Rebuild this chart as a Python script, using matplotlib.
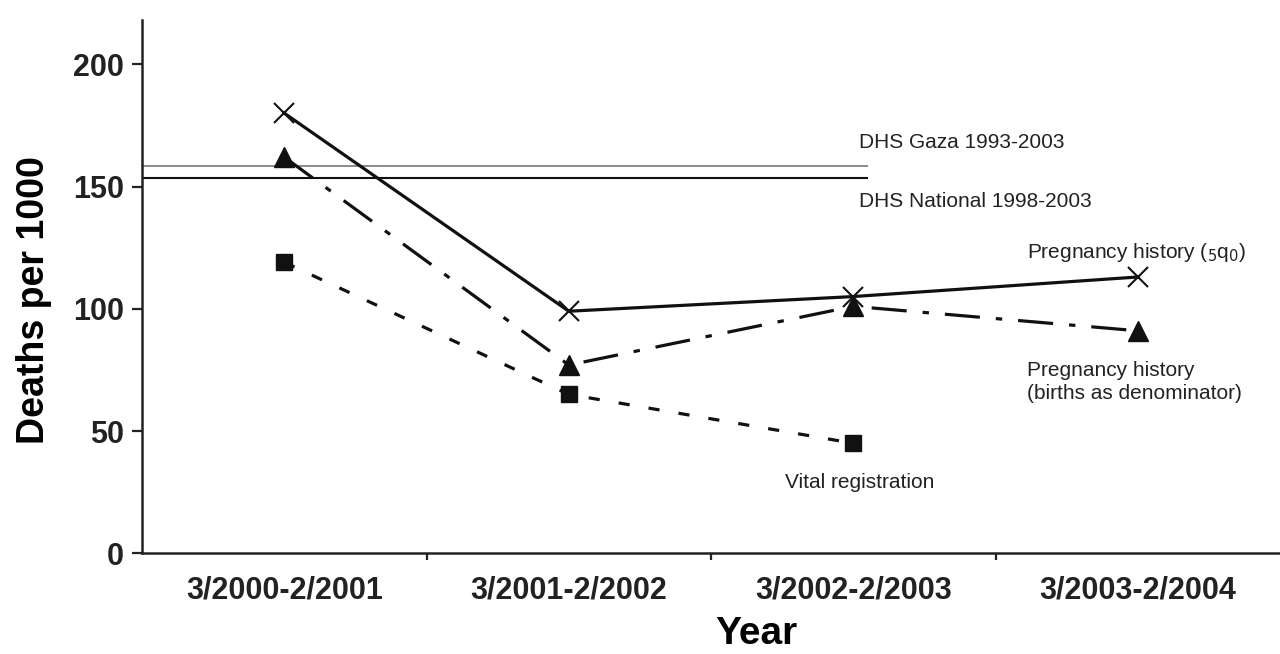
import numpy as np
import matplotlib
matplotlib.use("Agg")
import matplotlib.pyplot as plt

# data
periods = ["3/2000-2/2001", "3/2001-2/2002", "3/2002-2/2003", "3/2003-2/2004"]
preg_5q0 = [180, 99, 105, 113]
preg_births = [162, 77, 101, 91]
vital_reg = [119, 65, 45]
dhs_gaza = 158.5
dhs_national = 153.5

plt.rcParams['font.family'] = ['Liberation Sans', 'DejaVu Sans']
ink = '#111111'

fig = plt.figure(figsize=(12.8, 6.54), dpi=100)
ax = fig.add_axes([0.111, 0.154, 0.889, 0.815])

x = np.arange(len(periods))

# DHS reference lines
ax.plot([-0.5, 2.05], [dhs_gaza, dhs_gaza], color='#777777', lw=1.2, solid_capstyle='butt')
ax.plot([-0.5, 2.05], [dhs_national, dhs_national], color=ink, lw=1.5, solid_capstyle='butt')

ax.plot(x, preg_5q0, color=ink, lw=2.3, marker='x', ms=15, mew=1.5)
ax.plot(x, preg_births, color=ink, lw=2.3, marker='^', ms=15,
        dashes=(11, 5, 2, 5))
ax.plot(x[:len(vital_reg)], vital_reg, color=ink, lw=2.3, marker='s', ms=12,
        dashes=(3.5, 6))

# labels inside plot
note = dict(fontsize=15, color='#222222', va='center', ha='left')
ax.text(2.02, 168, "DHS Gaza 1993-2003", **note)
ax.text(2.02, 144, "DHS National 1998-2003", **note)
ax.text(2.61, 123, "Pregnancy history ($_5$q$_0$)", **note)
ax.text(2.61, 70, "Pregnancy history\n(births as denominator)", linespacing=1.3, **note)
ax.text(1.76, 29, "Vital registration", **note)

ax.set_xlim(-0.5, 3.5)
ax.set_ylim(0, 218)
ax.set_yticks([0, 50, 100, 150, 200])
ax.set_xticks(x)
ax.set_xticklabels(periods)
ax.set_xticks([0.5, 1.5, 2.5], minor=True)

for s in ['top', 'right']:
    ax.spines[s].set_visible(False)
for s in ['left', 'bottom']:
    ax.spines[s].set_linewidth(1.8)
    ax.spines[s].set_color('#222222')

ax.tick_params(axis='y', length=7, width=1.6, labelsize=22, pad=6, colors='#222222')
ax.tick_params(axis='x', which='major', length=0, labelsize=22, pad=16, colors='#222222')
ax.tick_params(axis='x', which='minor', length=5, width=1.6, colors='#222222')
for lab in ax.get_xticklabels() + ax.get_yticklabels():
    lab.set_fontweight('bold')

ax.set_ylabel("Deaths per 1000", fontsize=27, fontweight='bold')
ax.set_xlabel("Year", fontsize=28, fontweight='bold')
ax.yaxis.set_label_coords(-0.079, 0.475)
ax.xaxis.set_label_coords(0.54, -0.117)

fig.savefig("out.png", dpi=100)
